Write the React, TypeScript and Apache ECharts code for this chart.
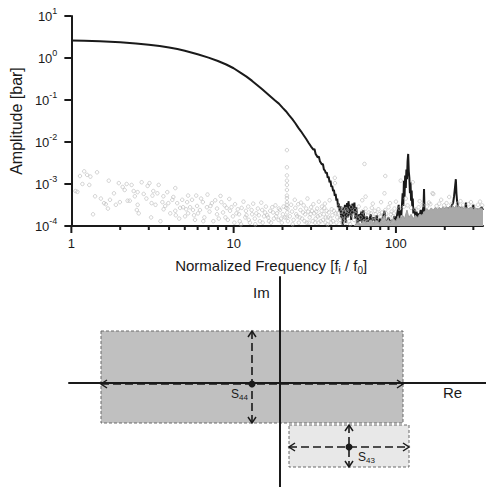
import React, { useEffect, useRef } from 'react';
import * as echarts from 'echarts';

const FONT = '"Liberation Sans", Arial, Helvetica, sans-serif';
const INK = '#1a1a1a';

// ---------- top panel: amplitude spectrum ----------
const X_MIN = 1;
const X_MAX = 344;
const Y_MIN = 1e-4;
const Y_MAX = 10;

// black line: [normalized frequency, amplitude (bar)]
const spectrumLine: [number, number][] = [
  [1, 2.62], [1.2, 2.58], [1.5, 2.5], [2, 2.36], [2.5, 2.22], [3, 2.07], [3.5, 1.92], [4, 1.77],
  [4.5, 1.63], [5, 1.49], [6, 1.23], [7, 1.02], [8, 0.85], [9, 0.7], [10, 0.57], [11, 0.45],
  [12, 0.36], [13, 0.285], [14, 0.225], [15, 0.18], [16, 0.145], [17, 0.118], [18, 0.097],
  [19, 0.082], [20, 0.066], [21, 0.054], [22, 0.043], [23, 0.035], [24, 0.028], [25, 0.022],
  [26, 0.018], [27, 0.0145], [28, 0.0118], [29, 0.0095], [30, 0.0078], [31, 0.0066],
  [31.5, 0.0068], [32, 0.0052], [33, 0.0043], [33.5, 0.0045], [34, 0.0035], [35, 0.0029],
  [35.5, 0.003], [36, 0.0022], [36.5, 0.0021], [37, 0.0018], [37.5, 0.0019], [38, 0.0014],
  [38.5, 0.0015], [39, 0.0011], [39.5, 0.0012], [40, 0.00085], [40.5, 0.0009], [41, 0.00068],
  [41.5, 0.00072], [42, 0.00052], [42.5, 0.00058], [43, 0.0004], [43.5, 0.00045], [44, 0.00028],
  [44.5, 0.00034], [45, 0.00022], [45.5, 0.0003], [46, 0.00016], [46.5, 0.00025], [47, 0.0001],
  [47.5, 0.00028], [48, 0.00018], [48.5, 0.00032], [49, 0.00012], [50, 0.00035], [50.5, 0.00016],
  [51, 0.00039], [52, 0.00018], [52.5, 0.00032], [53, 0.00014], [54, 0.00034], [55, 0.0002],
  [55.5, 0.00036], [56, 0.00015], [57, 0.00028], [58, 0.00011], [59, 0.00019], [60, 0.00013],
  [61, 0.00022], [62, 0.00012], [63, 0.00024], [64, 0.00015], [65, 0.00011], [66, 0.00017],
  [68, 0.00012], [70, 0.00019], [71, 0.00013], [73, 0.00016], [75, 0.00012], [76, 0.00018],
  [78, 0.00011], [80, 0.00015], [82, 0.00012], [84, 0.00019], [85, 0.00023], [86, 0.00014],
  [88, 0.00012], [90, 0.00016], [92, 0.00011], [94, 0.00014], [96, 0.00012], [98, 0.00017],
  [100, 0.00013], [102, 0.0002], [104, 0.00032], [105, 0.00015], [106, 0.00024], [108, 0.00018],
  [110, 0.0006], [111, 0.0003], [112, 0.0012], [113, 0.0005], [114, 0.0016], [115, 0.0008],
  [116, 0.0022], [117, 0.0013], [118, 0.0035], [119, 0.0052], [120, 0.002], [121, 0.0014],
  [122, 0.0006], [123, 0.0011], [124, 0.0004], [125, 0.0007], [126, 0.0003], [127, 0.00045],
  [128, 0.0002], [130, 0.00026], [132, 0.00016], [134, 0.00022], [136, 0.00015], [138, 0.0002],
  [140, 0.00017], [142, 0.00024], [144, 0.00018], [146, 0.00022], [148, 0.0003], [149, 0.00076],
  [150, 0.00025], [152, 0.00018], [155, 0.00023], [158, 0.00016], [162, 0.00021], [166, 0.00017],
  [170, 0.00022], [175, 0.00018], [180, 0.00023], [185, 0.00019], [190, 0.00024], [195, 0.0002],
  [200, 0.00026], [205, 0.00021], [210, 0.00027], [215, 0.00022], [220, 0.0003], [225, 0.00035],
  [228, 0.0005], [231, 0.0008], [234, 0.0013], [236, 0.0006], [238, 0.0004], [241, 0.0003],
  [245, 0.00024], [250, 0.00028], [255, 0.00022], [260, 0.00026], [265, 0.00023], [268, 0.00029],
  [270, 0.00036], [272, 0.00025], [278, 0.00023], [285, 0.00026], [292, 0.00022], [298, 0.00028],
  [300, 0.00032], [303, 0.00024], [310, 0.00022], [318, 0.00025], [325, 0.00023], [332, 0.00026],
  [338, 0.00028], [344, 0.00024],
];

// dense grey noise floor at high frequency: [frequency, amplitude x 1e-4 bar]
const noiseFloorE4: [number, number][] = [
  [55, 1.0], [58, 1.2], [61, 1.1], [64, 1.3], [67, 1.15], [70, 1.4], [73, 1.2], [76, 1.35],
  [79, 1.15], [82, 1.45], [85, 1.8], [87, 1.3], [90, 1.4], [93, 1.2], [96, 1.5], [100, 1.3],
  [103, 1.7], [106, 1.4], [110, 1.8], [113, 1.5], [117, 2.4], [120, 1.6], [124, 1.9], [128, 1.5],
  [132, 1.8], [136, 1.6], [140, 1.9], [145, 1.8], [150, 2.2], [155, 2.6], [160, 2.3], [165, 2.7],
  [170, 2.4], [175, 2.8], [180, 2.5], [185, 2.8], [190, 2.5], [195, 2.9], [200, 2.6], [205, 2.9],
  [210, 2.6], [215, 3.0], [220, 2.7], [225, 3.0], [230, 2.7], [235, 3.1], [240, 2.8], [245, 3.0],
  [250, 2.7], [255, 2.9], [260, 2.6], [265, 2.9], [270, 2.6], [275, 2.8], [280, 2.6], [290, 2.8],
  [300, 2.5], [310, 2.7], [320, 2.5], [330, 2.7], [344, 2.5],
];

// grey scatter (hollow circles): [frequency, amplitude x 1e-4 bar]
const scatterE4: [number, number][] = [
  [1.06, 6.8], [1.09, 6.5], [1.13, 15.5], [1.17, 10], [1.2, 20], [1.25, 16.5], [1.29, 9.5],
  [1.31, 15], [1.36, 1.9], [1.4, 5.1], [1.44, 19], [1.52, 4.5], [1.59, 3.5], [1.63, 3.3],
  [1.68, 2.6], [1.7, 12], [1.73, 4.2], [1.83, 6], [1.88, 3.2], [1.96, 10.5], [1.99, 3.7],
  [2.07, 8.5], [2.13, 7.2], [2.19, 10], [2.22, 4], [2.29, 4], [2.35, 9.5], [2.42, 6.8],
  [2.46, 5.1], [2.53, 2.4], [2.56, 3.2], [2.6, 2], [2.71, 11], [2.79, 5.8], [2.9, 4.5], [2.95, 9],
  [3.03, 10.5], [3.12, 3.5], [3.2, 6.8], [3.3, 3.2], [3.39, 6], [3.45, 9.5], [3.54, 1.3],
  [3.64, 3.7], [3.69, 5.1], [3.79, 3], [3.9, 6.4], [3.96, 3.5], [4.07, 2], [4.19, 4.2],
  [4.25, 4.9], [4.37, 2.3], [4.49, 3.5], [4.62, 1.5], [4.68, 2.7], [4.82, 4.2], [4.88, 2.8],
  [5.02, 1.7], [5.17, 3.7], [5.24, 2], [5.39, 2.8], [5.54, 4.2], [5.62, 2.4], [5.78, 1.4],
  [5.95, 3], [6.03, 2], [2.56, 6.4], [3.16, 5.3], [4.37, 8], [5.24, 5.3], [5.88, 5.3], [6.2, 2.4],
  [6.46, 3.7], [6.84, 2.8], [7.34, 3.5], [8.4, 3.7], [9.06, 2.7], [9.7, 2.8], [10.4, 2],
  [11.2, 2.7], [12, 1.8], [12.9, 2.4], [13.8, 2], [15, 2.4], [16.1, 1.8], [17.3, 2.8], [18.5, 2],
  [6.3, 4.5], [6.6, 1.6], [6.9, 5.6], [7.1, 2.2], [7.5, 1.3], [7.7, 4.1], [7.9, 2.6], [8.1, 1.5],
  [8.3, 5.2], [8.6, 2.1], [8.8, 3.1], [9.2, 1.4], [9.4, 4.4], [9.9, 1.7], [10.2, 3.3], [10.6, 2.5],
  [10.9, 1.3], [11.5, 3.8], [11.8, 1.6], [12.3, 2.9], [12.6, 1.2], [13.2, 3.4], [13.5, 1.5],
  [14.1, 2.6], [14.5, 1.3], [14.8, 3.6], [15.4, 1.7], [15.8, 2.9], [16.5, 1.3], [16.8, 2.3],
  [17.7, 1.5], [18.1, 3.1], [18.9, 1.4], [19.3, 2.4], [19.8, 1.2], [20.3, 2.9], [20.7, 1.6],
  [21.3, 64], [21.3, 25], [21.3, 16], [21.3, 12], [21.3, 9.5], [21.3, 7.2], [21.3, 5.3],
  [21.3, 4.6], [21.3, 3.7], [21.3, 3.2], [21.1, 2.7], [21.5, 2.6], [21.4, 2.1], [21.2, 1.6],
  [21.6, 1.3], [22.9, 2.2], [23.4, 1.4], [24, 2.7], [24.6, 1.7], [25.2, 1.2], [25.8, 2.4],
  [26.4, 1.5], [27, 3.1], [27.6, 1.9], [28.2, 1.2], [28.8, 2.2], [29.4, 1.6], [30, 2.8],
  [30.7, 1.3], [31.4, 2], [32, 1.5], [32.7, 2.6], [33.4, 1.2], [34, 1.8], [34.8, 2.3], [35.5, 1.4],
  [36.2, 2.7], [37, 1.6], [37.8, 1.1], [38.6, 2.1], [39.4, 1.5], [40.2, 2.5], [41, 1.3], [42, 14],
  [42.1, 10.5], [42.6, 2], [43.5, 1.6], [44.3, 2.9], [45.2, 1.4], [46, 2.2], [23.8, 4.2],
  [26, 3.6], [28.5, 4.5], [31, 3.3], [33.5, 3.8], [36.5, 3.4], [39, 4.1], [47, 2.6], [48.5, 1.5],
  [50, 2.3], [51.5, 1.3], [53, 2.8], [54.5, 1.7], [56, 2.4], [57.5, 1.2], [59, 2.9], [60.5, 1.6],
  [62, 2.2], [63.5, 1.3], [65, 2.6], [66.5, 1.5], [68, 2.1], [69.5, 1.2], [71, 2.7], [72.5, 1.6],
  [74, 2.3], [76, 1.4], [78, 2.5], [80, 1.7], [82, 2.1], [84, 1.3], [86, 2.4], [88, 1.6], [90, 2.8],
  [92, 1.4], [94, 2.2], [96, 1.7], [98, 2.6], [64, 30], [65, 5], [81, 3.7], [85, 6], [86, 15.5],
  [107, 12], [127, 11], [170, 5.8], [168, 6], [213, 4.9], [330, 3.8], [62, 4.1], [72, 3.4],
  [92, 3.5], [100, 3.8], [115, 4.5], [140, 3.9], [160, 3.6], [190, 4.2], [250, 3.9], [290, 3.7],
  [105, 2.6], [112, 2.9], [118, 3.1], [124, 2.7], [132, 2.5], [138, 2.8], [146, 3.2], [155, 2.9],
  [163, 3.3], [178, 3], [185, 3.4], [198, 3.1], [205, 3.5], [220, 3.3], [240, 3.4], [260, 3.2],
  [280, 3.3], [300, 3], [320, 3.2], [340, 3.1],
  [3.1, 1.6], [3.7, 2.5], [4.4, 1.8], [5.1, 2.5], [5.7, 1.8], [6.5, 1.3], [7.2, 3], [7.9, 1.9],
  [8.9, 1.6], [9.5, 2.3], [10.1, 1.2], [10.8, 1.9], [11.1, 1.1], [11.9, 2.3], [12.4, 1.4],
  [13, 1.9], [13.6, 1.1], [14.3, 1.8], [15.1, 1.2], [15.6, 2.1], [16.3, 1.6], [17, 1.2],
  [17.5, 2.1], [18.3, 1.7], [19, 2.6], [19.6, 1.5], [20.1, 1.9], [22.2, 1.7], [22.6, 3.2],
  [23.1, 1.1], [24.3, 1.9], [25, 3.3], [25.5, 1.6], [26.8, 2.1], [27.3, 1.3], [28, 2.6], [29, 1.2],
  [29.8, 1.9], [30.4, 2.3], [31.8, 1.2], [32.3, 2.2], [33, 1.7], [34.4, 1.3], [35, 2.9],
  [35.9, 1.9], [36.8, 1.2], [37.4, 2.3], [38.2, 1.6], [39.8, 1.2], [40.6, 1.8], [41.5, 2.3],
  [43, 1.2], [44, 2], [45.7, 1.6], [46.5, 1.2], [47.7, 2.1], [49, 1.2], [49.5, 2.5], [51, 1.8],
  [52.3, 1.1], [53.8, 2.1], [55.2, 1.4], [56.8, 1.9], [58.3, 1.5], [61, 1.2], [64.5, 1.9],
  [67, 1.3], [70, 2], [73, 1.4], [75, 1.9], [77, 1.2], [79, 1.9], [83, 1.5], [87, 2], [89, 1.2],
  [93, 1.9], [95, 1.3], [97, 2],
];

const xMajorTicks = [1, 10, 100];
const xMinorTicks = [2, 3, 4, 5, 6, 7, 8, 9, 20, 30, 40, 50, 60, 70, 80, 90, 200, 300];

// ---------- bottom panel: complex plane schematic ----------
const RE_MIN = -211;
const RE_MAX = 206;
const IM_MIN = -104;
const IM_MAX = 106;
const boxNames = ['44', '43'];
const boxReMin = [-179, 9];
const boxReMax = [123, 129];
const boxImMin = [-40, -84];
const boxImMax = [52, -42];
const boxCenterRe = [-28, 69];
const boxCenterIm = [-1, -64];
const boxFills = ['#c0c0c0', '#e8e8e8'];

const isPow10 = (v: number) => Math.abs(Math.log10(v) - Math.round(Math.log10(v))) < 1e-6;

export default function App() {
  const ref = useRef<HTMLDivElement>(null);

  useEffect(() => {
    if (!ref.current) return;
    const chart = echarts.init(ref.current, undefined, { renderer: 'svg' });

    const tickData = [
      ...xMajorTicks.map((v) => [v, Y_MIN, 1]),
      ...xMinorTicks.map((v) => [v, Y_MIN, 0]),
    ];

    const boxData = boxNames.map((_, i) => [
      boxReMin[i], boxReMax[i], boxImMin[i], boxImMax[i], boxCenterRe[i], boxCenterIm[i], i,
    ]);

    const arrowHead = (tip: number[], dx: number, dy: number) => {
      const len = 6;
      const half = 4;
      const bx = tip[0] + dx * len;
      const by = tip[1] + dy * len;
      return {
        type: 'polyline',
        shape: {
          points: [
            [bx - dy * half, by + dx * half],
            [tip[0], tip[1]],
            [bx + dy * half, by - dx * half],
          ],
        },
        style: { stroke: INK, lineWidth: 1.5, fill: 'none' },
      };
    };

    const option: any = {
      animation: false,
      backgroundColor: '#ffffff',
      textStyle: { fontFamily: FONT },
      grid: [
        { left: 70, top: 16, width: 416, height: 210 },
        { left: 69, top: 277, width: 417, height: 210 },
      ],
      xAxis: [
        {
          type: 'log',
          gridIndex: 0,
          min: X_MIN,
          max: X_MAX,
          logBase: 10,
          axisLine: { show: true, lineStyle: { color: INK, width: 2 } },
          axisTick: { show: false },
          splitLine: { show: false },
          axisLabel: {
            margin: 11,
            fontSize: 13,
            color: INK,
            fontFamily: FONT,
            formatter: (v: number) => (isPow10(v) ? String(Math.round(v)) : ''),
          },
          name: 'Normalized Frequency [f{sub|i} / f{sub|0}]',
          nameLocation: 'middle',
          nameGap: 30,
          nameTextStyle: {
            fontSize: 15,
            color: INK,
            fontFamily: FONT,
            padding: [0, 12, 0, 0],
            rich: {
              sub: { fontSize: 10, color: INK, fontFamily: FONT, padding: [9, 0, 0, 0] },
            },
          },
        },
        {
          type: 'value',
          gridIndex: 1,
          min: RE_MIN,
          max: RE_MAX,
          z: 2,
          axisLine: { show: true, onZero: true, lineStyle: { color: INK, width: 2 } },
          axisTick: { show: false },
          axisLabel: { show: false },
          splitLine: { show: false },
        },
      ],
      yAxis: [
        {
          type: 'log',
          gridIndex: 0,
          min: Y_MIN,
          max: Y_MAX,
          logBase: 10,
          axisLine: { show: true, lineStyle: { color: INK, width: 2 } },
          axisTick: { show: true, length: 7, lineStyle: { color: INK, width: 2 } },
          splitLine: { show: false },
          axisLabel: {
            margin: 14,
            color: INK,
            formatter: (v: number) => `{b|10}{s|${Math.round(Math.log10(v))}}`,
            rich: {
              b: { fontSize: 13, color: INK, fontFamily: FONT },
              s: { fontSize: 9, color: INK, fontFamily: FONT, padding: [0, 0, 10, 0] },
            },
          },
          name: 'Amplitude [bar]',
          nameLocation: 'middle',
          nameGap: 40,
          nameRotate: 90,
          nameTextStyle: { fontSize: 16, color: INK, fontFamily: FONT },
        },
        {
          type: 'value',
          gridIndex: 1,
          min: IM_MIN,
          max: IM_MAX,
          z: 2,
          axisLine: { show: true, onZero: true, lineStyle: { color: INK, width: 2 } },
          axisTick: { show: false },
          axisLabel: { show: false },
          splitLine: { show: false },
        },
      ],
      series: [
        {
          type: 'line',
          xAxisIndex: 0,
          yAxisIndex: 0,
          data: spectrumLine,
          showSymbol: false,
          symbol: 'none',
          lineStyle: { color: INK, width: 2 },
          z: 2,
        },
        {
          type: 'line',
          xAxisIndex: 0,
          yAxisIndex: 0,
          data: noiseFloorE4.map(([f, a]) => [f, a * 1e-4]),
          showSymbol: false,
          symbol: 'none',
          lineStyle: { color: '#9c9c9c', width: 1 },
          areaStyle: { color: '#a8a8a8', opacity: 1, origin: 'start' },
          z: 3,
        },
        {
          type: 'scatter',
          xAxisIndex: 0,
          yAxisIndex: 0,
          data: scatterE4.map(([f, a]) => [f, a * 1e-4]),
          symbol: 'circle',
          symbolSize: 3.5,
          itemStyle: { color: 'rgba(255,255,255,0)', borderColor: '#b8b8b8', borderWidth: 0.8 },
          z: 4,
        },
        {
          type: 'custom',
          xAxisIndex: 0,
          yAxisIndex: 0,
          clip: false,
          data: tickData,
          z: 5,
          renderItem: (_p: any, api: any) => {
            const p = api.coord([api.value(0), api.value(1)]);
            const len = api.value(2) === 1 ? 7 : 4;
            return {
              type: 'line',
              shape: { x1: p[0], y1: p[1], x2: p[0], y2: p[1] + len },
              style: { stroke: INK, lineWidth: 2 },
            };
          },
        },
        {
          type: 'custom',
          xAxisIndex: 1,
          yAxisIndex: 1,
          clip: false,
          z: 1,
          data: boxData,
          renderItem: (_p: any, api: any) => {
            const i = api.value(6);
            const tl = api.coord([api.value(0), api.value(3)]);
            const br = api.coord([api.value(1), api.value(2)]);
            return {
              type: 'rect',
              shape: { x: tl[0], y: tl[1], width: br[0] - tl[0], height: br[1] - tl[1] },
              style: { fill: boxFills[i], stroke: '#6a6a6a', lineWidth: 1, lineDash: [3, 2] },
            };
          },
        },
        {
          type: 'custom',
          xAxisIndex: 1,
          yAxisIndex: 1,
          clip: false,
          z: 3,
          data: boxData,
          renderItem: (_p: any, api: any) => {
            const i = api.value(6);
            const c = api.coord([api.value(4), api.value(5)]);
            const l = api.coord([api.value(0), api.value(5)]);
            const r = api.coord([api.value(1), api.value(5)]);
            const t = api.coord([api.value(4), api.value(3)]);
            const b = api.coord([api.value(4), api.value(2)]);
            const dash = { stroke: INK, lineWidth: 1.6, lineDash: [8, 4] };
            const label =
              i === 0
                ? { x: c[0] - 4, y: c[1] + 2, align: 'right' }
                : { x: c[0] + 9, y: c[1] + 2, align: 'left' };
            return {
              type: 'group',
              children: [
                { type: 'line', shape: { x1: l[0], y1: l[1], x2: r[0], y2: r[1] }, style: dash },
                { type: 'line', shape: { x1: t[0], y1: t[1], x2: b[0], y2: b[1] }, style: dash },
                arrowHead(l, 1, 0),
                arrowHead(r, -1, 0),
                arrowHead(t, 0, 1),
                arrowHead(b, 0, -1),
                { type: 'circle', shape: { cx: c[0], cy: c[1], r: 3.5 }, style: { fill: INK } },
                {
                  type: 'text',
                  style: {
                    text: `S{sub|${boxNames[i]}}`,
                    x: label.x,
                    y: label.y,
                    align: label.align,
                    verticalAlign: 'top',
                    fill: INK,
                    fontSize: 12,
                    fontFamily: FONT,
                    rich: { sub: { fontSize: 8, fill: INK, fontFamily: FONT, padding: [7, 0, 0, 0] } },
                  },
                },
              ],
            };
          },
        },
      ],
      graphic: [
        {
          type: 'text',
          left: 253,
          top: 285,
          style: { text: 'Im', fontSize: 15, fill: INK, fontFamily: FONT },
        },
        {
          type: 'text',
          left: 443,
          top: 385,
          style: { text: 'Re', fontSize: 15, fill: INK, fontFamily: FONT },
        },
      ],
    };

    chart.setOption(option);
    return () => chart.dispose();
  }, []);

  return (
    <div
      ref={ref}
      style={{ position: 'fixed', left: 0, top: 0, width: 486, height: 487, background: '#fff' }}
    />
  );
}
